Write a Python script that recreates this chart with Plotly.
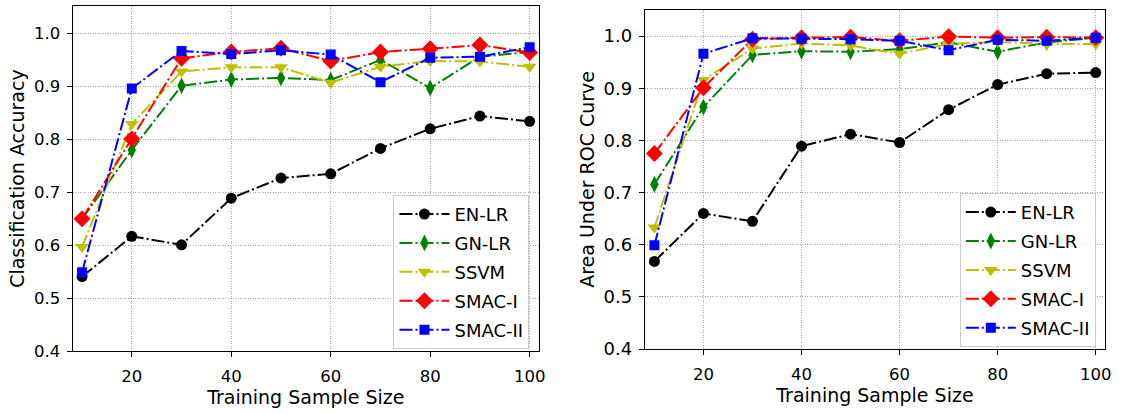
import plotly.graph_objects as go

sample_sizes = [10, 20, 30, 40, 50, 60, 70, 80, 90, 100]
methods = ["EN-LR", "GN-LR", "SSVM", "SMAC-I", "SMAC-II"]

acc_en_lr = [0.541, 0.617, 0.601, 0.689, 0.727, 0.735, 0.783, 0.820, 0.844, 0.834]
acc_gn_lr = [0.650, 0.780, 0.901, 0.913, 0.916, 0.912, 0.950, 0.897, 0.956, 0.965]
acc_ssvm = [0.597, 0.829, 0.928, 0.936, 0.936, 0.907, 0.937, 0.948, 0.947, 0.937]
acc_smac1 = [0.650, 0.801, 0.953, 0.965, 0.972, 0.948, 0.965, 0.971, 0.978, 0.964]
acc_smac2 = [0.549, 0.896, 0.967, 0.961, 0.968, 0.960, 0.908, 0.954, 0.956, 0.974]

auc_en_lr = [0.568, 0.660, 0.645, 0.789, 0.812, 0.796, 0.859, 0.907, 0.928, 0.930]
auc_gn_lr = [0.716, 0.864, 0.964, 0.971, 0.970, 0.975, 0.988, 0.970, 0.988, 0.997]
auc_ssvm = [0.633, 0.916, 0.976, 0.986, 0.982, 0.966, 0.985, 0.989, 0.985, 0.985]
auc_smac1 = [0.775, 0.901, 0.994, 0.997, 0.998, 0.991, 0.999, 0.997, 0.998, 0.997]
auc_smac2 = [0.599, 0.966, 0.996, 0.995, 0.994, 0.991, 0.973, 0.993, 0.991, 0.997]

x_ticks = [20, 40, 60, 80, 100]
y_ticks = [0.4, 0.5, 0.6, 0.7, 0.8, 0.9, 1.0]

colors = ["#000000", "#008000", "#bfbf00", "#ff0000", "#0000ff"]
symbols = ["circle", "diamond-tall", "triangle-down", "diamond", "square"]
sizes = [11, 12, 12, 13, 10]

acc_series = [acc_en_lr, acc_gn_lr, acc_ssvm, acc_smac1, acc_smac2]
auc_series = [auc_en_lr, auc_gn_lr, auc_ssvm, auc_smac1, auc_smac2]

FONT = "DejaVu Sans"
fig = go.Figure()

for panel, (series, xa, ya, leg) in enumerate([
    (acc_series, "x", "y", "legend"),
    (auc_series, "x2", "y2", "legend2"),
]):
    for i, name in enumerate(methods):
        fig.add_trace(go.Scatter(
            x=sample_sizes, y=series[i], name=name, mode="lines+markers",
            xaxis=xa, yaxis=ya, legend=leg, legendgroup=f"{leg}{i}",
            line=dict(color=colors[i], width=2, dash="13px,3px,2px,3px"),
            marker=dict(symbol=symbols[i], size=sizes[i], color=colors[i],
                        line=dict(width=0)),
        ))

W, H = 1123, 414
def px_x(p):
    return p / W
def px_y(p):
    return 1 - p / H

axis_common = dict(
    showline=True, mirror=True, linecolor="black", linewidth=1.2,
    ticks="outside", ticklen=5, tickcolor="black", tickwidth=1,
    showgrid=True, gridcolor="#a8a8a8", gridwidth=1, griddash="1px,1.5px",
    zeroline=False,
)

def xtitle():
    return dict(text="Training Sample Size", font=dict(family=FONT, size=19), standoff=5)

def legend_cfg(xr, yb):
    return dict(x=px_x(xr), y=px_y(yb), xanchor="right", yanchor="bottom",
                bgcolor="rgba(255,255,255,0.8)", bordercolor="#cccccc", borderwidth=1,
                font=dict(family=FONT, size=18), itemwidth=50, tracegroupgap=2.5,
                traceorder="grouped")

fig.update_layout(
    width=W, height=H, margin=dict(l=0, r=0, t=0, b=0),
    paper_bgcolor="white", plot_bgcolor="white",
    font=dict(family=FONT, color="#000000"),
    xaxis=dict(domain=[px_x(73), px_x(542)], range=[8.1, 101.9], tickvals=x_ticks,
               title=xtitle(), anchor="y", ticklabelstandoff=5,
               tickfont=dict(family=FONT, size=16.5, color="#000000"), **axis_common),
    yaxis=dict(domain=[px_y(360), px_y(6)], range=[0.4, 1.052], tickvals=y_ticks,
               tickformat=".1f", ticklabelstandoff=3,
               tickfont=dict(family=FONT, size=16.5, color="#000000"),
               title=dict(text="Classification Accuracy", font=dict(family=FONT, size=19), standoff=4),
               anchor="x", **axis_common),
    xaxis2=dict(domain=[px_x(648.3), px_x(1111)], range=[8.05, 101.9], tickvals=x_ticks,
                title=xtitle(), anchor="y2", ticklabelstandoff=5,
                tickfont=dict(family=FONT, size=16.5, color="#000000"), **axis_common),
    yaxis2=dict(domain=[px_y(357.7), px_y(10)], range=[0.4, 1.0505], tickvals=y_ticks,
                tickformat=".1f", ticklabelstandoff=3,
                tickfont=dict(family=FONT, size=18, color="#000000"),
                title=dict(text="Area Under ROC Curve", font=dict(family=FONT, size=19), standoff=3),
                anchor="x2", **axis_common),
    legend=legend_cfg(532.3, 357.5),
    legend2=legend_cfg(1101.7, 355.5),
)

fig.write_html("out.html")
